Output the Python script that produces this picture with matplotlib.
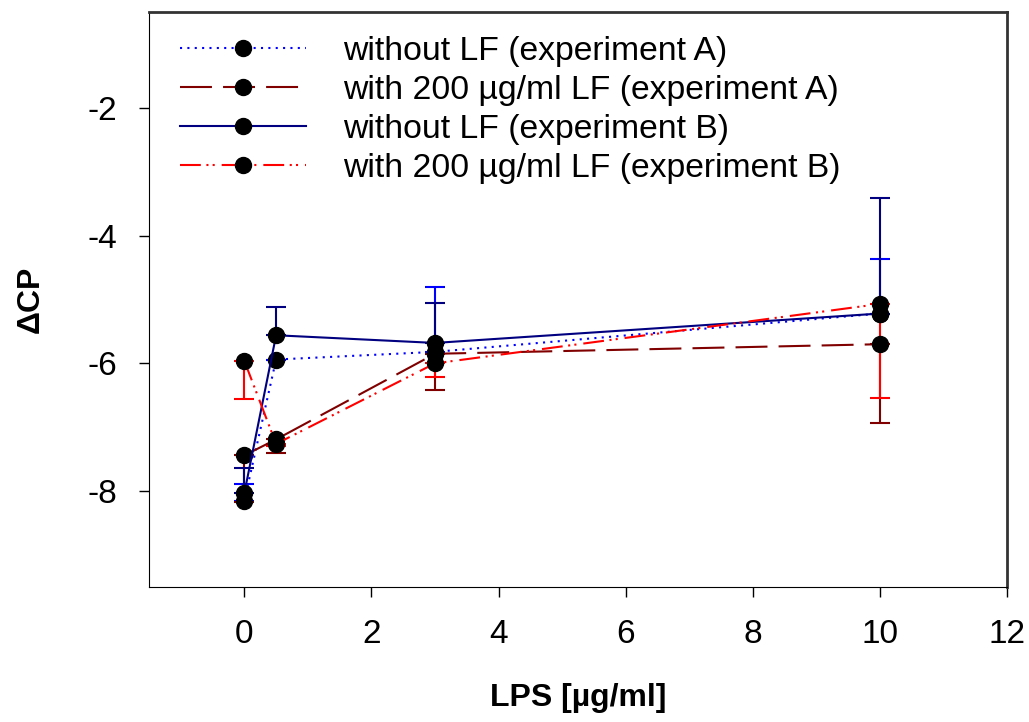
import numpy as np
import matplotlib.pyplot as plt

plt.rcParams['font.family'] = ['Liberation Sans', 'DejaVu Sans']
plt.rcParams['lines.scale_dashes'] = False
plt.rcParams['axes.unicode_minus'] = False

# LPS concentration (ug/ml)
lps = [0, 0.5, 3, 10]

# experiment A
a_without = [-8.15, -5.94, -5.82, -5.22]
a_without_err = [0.26, 0.0, 1.01, 0.85]     # upper only
a_with = [-7.44, -7.19, -5.85, -5.70]
a_with_err = [0.73, 0.21, 0.56, 1.23]       # lower only

# experiment B
b_without = [-8.03, -5.56, -5.68, -5.22]
b_without_err = [0.39, 0.45, 0.62, 1.81]    # upper only
b_with = [-5.96, -7.26, -6.00, -5.07]
b_with_err = [0.59, 0.03, 0.22, 1.47]       # lower only

labels = ['without LF (experiment A)',
          'with 200 \u00b5g/ml LF (experiment A)',
          'without LF (experiment B)',
          'with 200 \u00b5g/ml LF (experiment B)']

zeros = [0, 0, 0, 0]

fig = plt.figure(figsize=(10.29, 7.22), dpi=100)
ax = fig.add_axes([0.1448, 0.187, 0.8338, 0.7964])

series = [
    (a_without, [zeros, a_without_err], '#0000ff', (0, (1.5, 3.8))),
    (a_with, [a_with_err, zeros], '#800000', (0, (23, 8))),
    (b_without, [zeros, b_without_err], '#000080', '-'),
    (b_with, [b_with_err, zeros], '#ff0000', (0, (15, 4, 1.5, 3, 1.5, 5))),
]

for (y, err, col, ls), lab in zip(series, labels):
    ax.errorbar(lps, y, yerr=err, fmt='none', ecolor=col, elinewidth=1.5,
                capsize=7, capthick=1.5, zorder=2)
    ax.plot(lps, y, color=col, ls=ls, lw=1.5, marker='o', markersize=11.5,
            markerfacecolor='black', markeredgecolor='black', label=lab, zorder=3)

ax.set_xlim(-1.5, 12)
ax.set_ylim(-9.5, -0.5)
ax.set_xticks(np.arange(0, 13, 2))
ax.set_yticks([-8, -6, -4, -2])
ax.tick_params(direction='out', length=7, width=1, labelsize=24, pad=16)

for s in ['top', 'right']:
    ax.spines[s].set_linewidth(2)
    ax.spines[s].set_color('#333333')

ax.set_xlabel('LPS [\u00b5g/ml]', fontsize=23, fontweight='bold', labelpad=24)
ax.set_ylabel('\u0394CP', fontsize=23, fontweight='bold', labelpad=30)

ax.legend(loc='upper left', bbox_to_anchor=(0.02, 0.982), frameon=False,
          fontsize=24.3, handlelength=3.75, handletextpad=1.1, labelspacing=0.24,
          borderaxespad=0)

fig.savefig('out.png', dpi=100)
